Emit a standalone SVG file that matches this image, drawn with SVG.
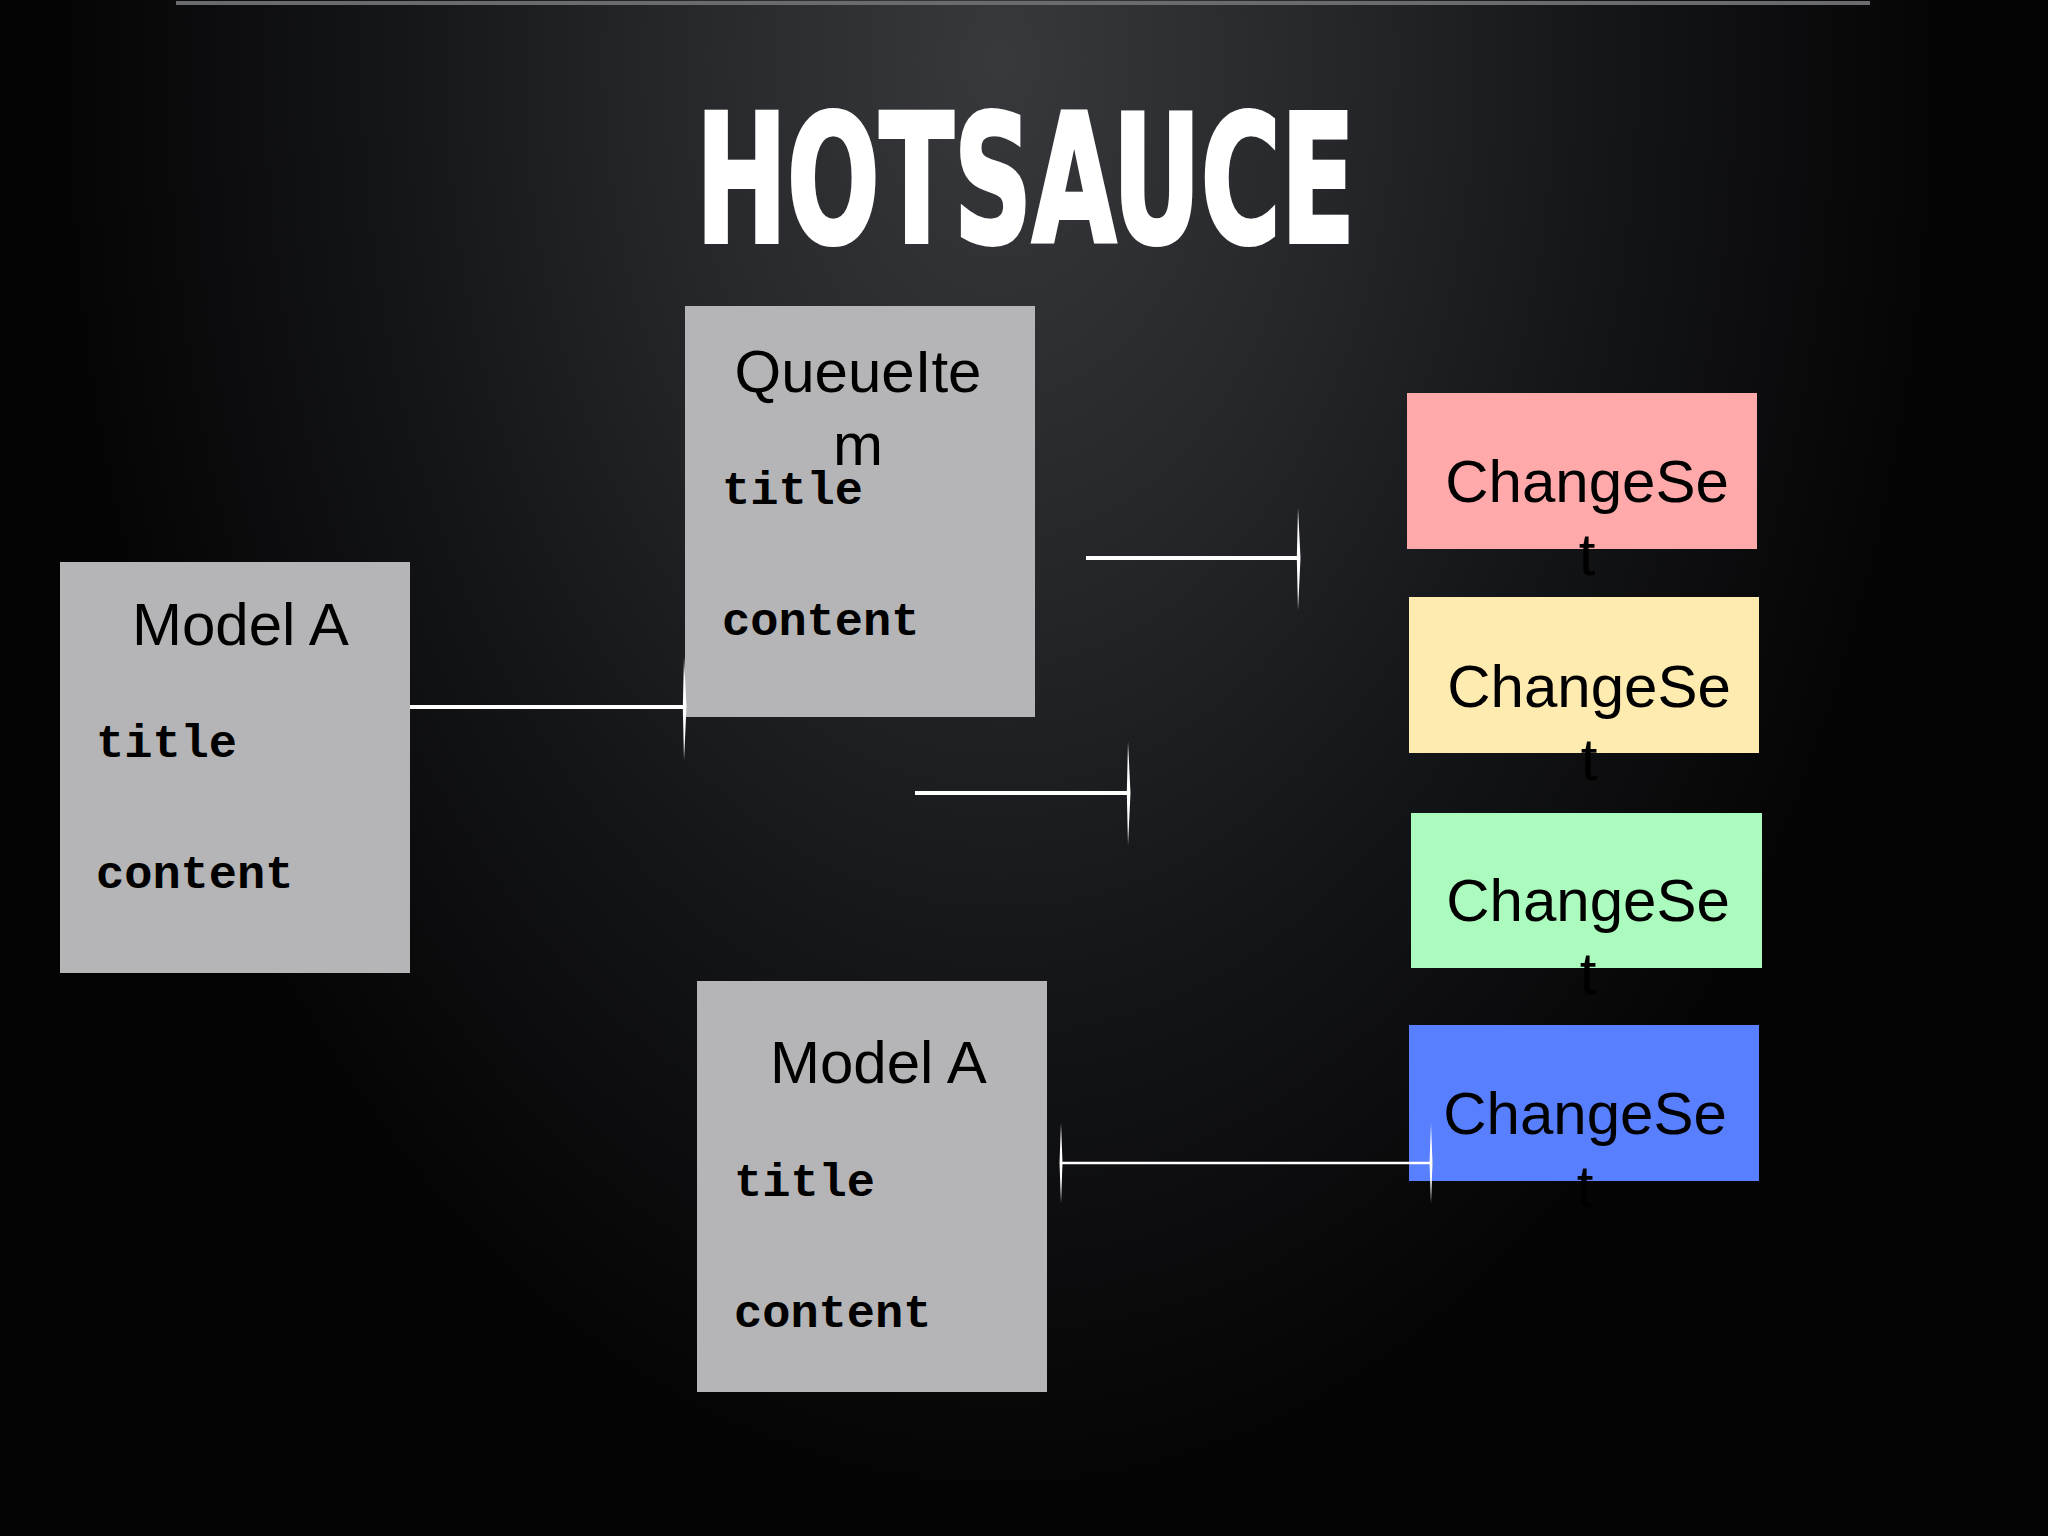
<svg xmlns="http://www.w3.org/2000/svg" width="2048" height="1536" viewBox="0 0 2048 1536">
<defs>
<radialGradient id="bg" gradientUnits="userSpaceOnUse" cx="1000" cy="60" r="1000" gradientTransform="translate(1000 60) scale(0.95 1.45) translate(-1000 -60)">
<stop offset="0" stop-color="#38393d"/>
<stop offset="0.35" stop-color="#26272a"/>
<stop offset="0.65" stop-color="#141518"/>
<stop offset="1" stop-color="#040404"/>
</radialGradient>
<style>
.box{fill:#b5b5b7}
.hd{font-family:"Liberation Sans",Arial,sans-serif;font-size:60px;fill:#000}
.mono{font-family:"Liberation Mono","Courier New",monospace;font-weight:bold;font-size:47px;fill:#000}
.cs{font-family:"Liberation Sans",Arial,sans-serif;font-size:60px;fill:#000;text-anchor:middle}
.ln{stroke:#ffffff;stroke-width:4;fill:none}
.ln2{stroke:#ffffff;stroke-width:2.5;fill:none}
.tick{fill:#ffffff}
</style>
</defs>
<rect x="0" y="0" width="2048" height="1536" fill="url(#bg)"/>
<line x1="176" y1="3" x2="1870" y2="3" stroke="#6a6b6e" stroke-width="4"/>
<text x="696" y="242" font-family="'DejaVu Sans Condensed','DejaVu Sans',sans-serif" font-weight="bold" font-size="178" fill="#ffffff" stroke="#ffffff" stroke-width="4" stroke-linejoin="miter" textLength="659" lengthAdjust="spacingAndGlyphs">HOTSAUCE</text>

<g id="queueitem">
<rect class="box" x="685" y="306" width="350" height="411"/>
<text class="cs" x="858" y="392">QueueIte</text>
<text class="cs" x="858" y="465">m</text>
<text class="mono" x="722" y="504">title</text>
<text class="mono" x="722" y="635">content</text>
</g>

<g id="modelA-left">
<rect class="box" x="60" y="562" width="350" height="411"/>
<text class="hd" x="132" y="645">Model A</text>
<text class="mono" x="96" y="757">title</text>
<text class="mono" x="96" y="888">content</text>
</g>

<g id="modelA-bottom">
<rect class="box" x="697" y="981" width="350" height="411"/>
<text class="hd" x="770" y="1083">Model A</text>
<text class="mono" x="734" y="1196">title</text>
<text class="mono" x="734" y="1327">content</text>
</g>

<g id="changeset-pink">
<rect x="1407" y="393" width="350" height="156" fill="#ffa9aa"/>
<text class="cs" x="1587" y="502">ChangeSe</text>
<text class="cs" x="1587" y="575">t</text>
</g>

<g id="changeset-yellow">
<rect x="1409" y="597" width="350" height="156" fill="#feebb0"/>
<text class="cs" x="1589" y="707">ChangeSe</text>
<text class="cs" x="1589" y="780">t</text>
</g>

<g id="changeset-green">
<rect x="1411" y="813" width="351" height="155" fill="#abfbbf"/>
<text class="cs" x="1588" y="921">ChangeSe</text>
<text class="cs" x="1588" y="994">t</text>
</g>

<g id="changeset-blue">
<rect x="1409" y="1025" width="350" height="156" fill="#587ffe"/>
<text class="cs" x="1585" y="1134">ChangeSe</text>
<text class="cs" x="1585" y="1207">t</text>
</g>

<g id="connectors">
<line class="ln" x1="1086" y1="558" x2="1298" y2="558"/>
<path class="tick" d="M1298 508 L1300.5 558 L1298 610 L1296.8 558 Z"/>
<line class="ln" x1="410" y1="707" x2="684" y2="707"/>
<path class="tick" d="M684 657 L686.5 707 L684 760 L682.8 707 Z"/>
<line class="ln" x1="915" y1="793" x2="1128" y2="793"/>
<path class="tick" d="M1128 742 L1130.5 793 L1128 845 L1126.8 793 Z"/>
<line class="ln2" x1="1061" y1="1163" x2="1431" y2="1163"/>
<path class="tick" d="M1061 1123 L1062.5 1163 L1061 1203 L1059.5 1163 Z"/>
<path class="tick" d="M1431 1123 L1432.5 1163 L1431 1203 L1429.5 1163 Z"/>
</g>
</svg>
